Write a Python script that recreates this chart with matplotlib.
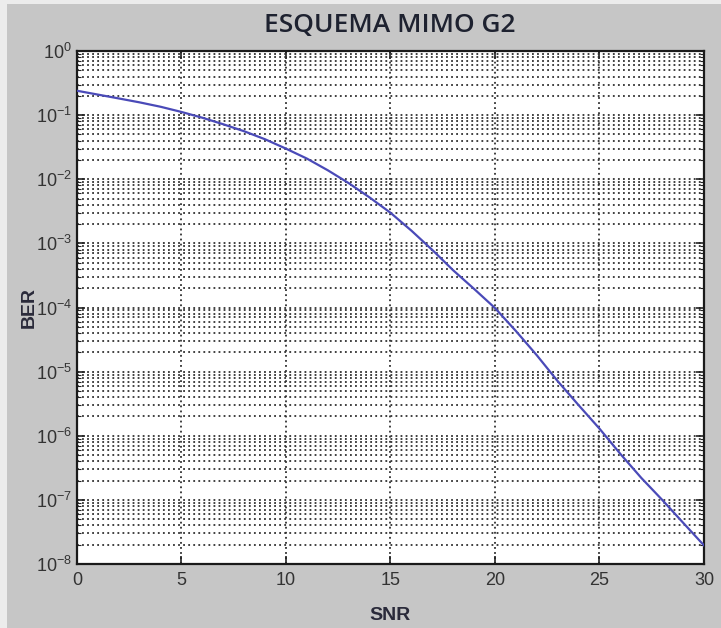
import numpy as np
import matplotlib.pyplot as plt
from matplotlib.patches import Rectangle
from matplotlib.ticker import LogLocator, FixedLocator, NullFormatter

# ==============================
# Data
# ==============================
snr = [0, 1, 2, 3, 4, 5, 6, 7, 8, 9, 10, 11, 12, 13, 14, 15,
       16, 17, 18, 19, 20, 21, 22, 23, 24, 25, 26, 27, 28, 29, 30]
ber = [0.24, 0.209, 0.182, 0.158, 0.135, 0.112, 0.091, 0.072, 0.056, 0.042,
       0.030, 0.021, 0.0138, 0.0087, 0.0052, 0.0030, 1.58e-3, 7.9e-4, 3.8e-4,
       1.95e-4, 9.8e-5, 4.3e-5, 1.8e-5, 7.1e-6, 3.0e-6, 1.29e-6, 5.2e-7,
       2.2e-7, 1.0e-7, 4.4e-8, 1.95e-8]
x_ticks = [0, 5, 10, 15, 20, 25, 30]
y_exps  = [0, -1, -2, -3, -4, -5, -6, -7, -8]

# ==============================
# Figure
# ==============================
W, H = 721, 628
fig = plt.figure(figsize=(W / 100, H / 100), dpi=100, facecolor='#ececec')
fig.patches.append(Rectangle((7 / W, 0), 1, 1 - 4 / H, transform=fig.transFigure,
                             facecolor='#c6c6c6', edgecolor='none', zorder=-10))

ax = fig.add_axes([77 / W, 1 - 564 / H, (704 - 77) / W, (564 - 51) / H])
ax.set_facecolor('white')

ax.semilogy(snr, ber, color='#4a4ab8', lw=1.6, zorder=3)

ax.set_xlim(0, 30)
ax.set_ylim(1e-8, 1e0)
ax.xaxis.set_major_locator(FixedLocator(x_ticks))
ax.yaxis.set_major_locator(FixedLocator([10.0 ** e for e in y_exps]))
ax.yaxis.set_minor_locator(LogLocator(base=10, subs=np.arange(2, 10), numticks=20))
ax.yaxis.set_minor_formatter(NullFormatter())
ax.set_yticklabels([f'$\\mathregular{{10^{{{e}}}}}$' for e in y_exps])
ax.set_xticklabels([str(t) for t in x_ticks])

# MATLAB-like dotted grid
grid_kw = dict(color='#303030', linestyle=(0, (1, 1.8)), linewidth=1.3)
ax.grid(True, which='major', axis='both', **grid_kw)
ax.grid(True, which='minor', axis='y', **grid_kw)
ax.set_axisbelow(True)

ax.tick_params(which='both', direction='in', top=True, right=True,
               labelsize=13, labelcolor='#333333', color='#222222')
ax.tick_params(which='major', length=6, width=1.2)
ax.tick_params(which='minor', length=3, width=0.8)
ax.tick_params(axis='x', pad=6)
for lbl in ax.get_xticklabels() + ax.get_yticklabels():
    lbl.set_family('Liberation Sans')
for sp in ax.spines.values():
    sp.set_color('#1a1a1a')
    sp.set_linewidth(1.6)

ax.set_xlabel('SNR', fontsize=14, fontweight='bold', family='Liberation Sans',
              color='#2a2a3a', labelpad=13)
ax.set_ylabel('BER', fontsize=14, fontweight='bold', family='Liberation Sans',
              color='#2a2a3a', labelpad=-1)

fig.text(390 / W, 1 - 25 / H, 'ESQUEMA MIMO G2', ha='center', va='center',
         fontsize=19, family='Open Sans', fontweight='semibold', color='#1e2230')

fig.savefig('out.png', dpi=100, facecolor=fig.get_facecolor())
